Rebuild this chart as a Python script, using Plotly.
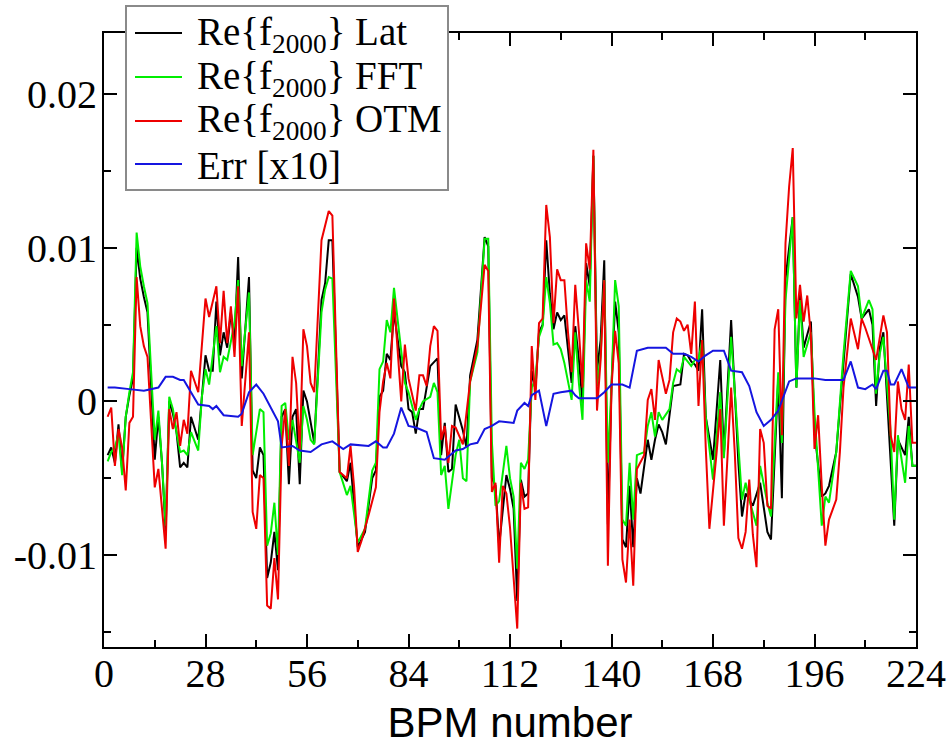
import plotly.graph_objects as go

# Re{f2000} OTM (red) : (BPM, value)
otm_points = [
    (1, -0.0010), (2, -0.0004), (3, -0.0042), (4, -0.0018), (5, -0.0030), (6, -0.0058), (7, -0.0014), (8, -0.0010),
    (9, 0.0081), (10, 0.0049), (11, 0.0036), (12, 0.0029), (14, -0.0056), (15, -0.0044), (17, -0.0096), (18, -0.0005),
    (19, -0.0018), (20, -0.0007), (21, -0.0029), (22, -0.0012), (23, -0.0021), (24, 0.0020), (25, 0.0013), (26, 0.0006),
    (28, 0.0067), (29, 0.0055), (31, 0.0075), (32, 0.0038), (33, 0.0072), (34, 0.0038), (35, 0.0062), (36, 0.0029),
    (37, 0.0075), (38, -0.0016), (40, 0.0045), (41, -0.0072), (42, -0.0083), (43, -0.0048), (44, -0.0050), (45, -0.0133),
    (46, -0.0135), (47, -0.0102), (48, -0.0129), (49, -0.0029), (50, -0.0005), (51, -0.0042), (52, 0.0029), (53, 0.0012),
    (54, -0.0032), (55, 0.0047), (56, 0.0036), (57, 0.0012), (58, 0.0006), (60, 0.0105), (62, 0.0124), (63, 0.0121),
    (65, -0.0046), (67, -0.0050), (68, -0.0029), (69, -0.0056), (70, -0.0098), (71, -0.0091), (73, -0.0074), (75, -0.0056),
    (76, -0.0007), (77, 0.0013), (78, 0.0025), (79, 0.0015), (80, 0.0067), (82, 0.0000), (83, 0.0037), (84, 0.0015),
    (86, -0.0006), (87, 0.0017), (88, 0.0017), (89, 0.0010), (90, 0.0036), (91, 0.0049), (92, 0.0046), (93, -0.0025),
    (94, -0.0016), (95, -0.0040), (96, -0.0016), (97, -0.0017), (99, -0.0028), (101, 0.0013), (103, 0.0036), (105, 0.0089),
    (106, 0.0085), (107, -0.0059), (108, -0.0053), (109, -0.0105), (110, -0.0055), (111, -0.0060), (112, -0.0082), (114, -0.0148),
    (115, -0.0053), (116, -0.0070), (117, -0.0069), (118, 0.0036), (119, 0.0001), (120, 0.0051), (121, 0.0054), (122, 0.0128),
    (123, 0.0107), (124, 0.0051), (125, 0.0086), (126, 0.0079), (127, 0.0079), (128, 0.0045), (129, 0.0019), (130, 0.0076),
    (131, 0.0046), (132, 0.0009), (133, 0.0103), (134, 0.0086), (135, 0.0164), (136, -0.0006), (137, 0.0027), (138, 0.0079),
    (139, -0.0107), (140, 0.0009), (141, 0.0046), (142, 0.0025), (143, -0.0103), (144, -0.0118), (145, -0.0077), (146, -0.0120),
    (147, -0.0044), (149, -0.0035), (150, 0.0001), (151, 0.0008), (152, -0.0012), (153, 0.0027), (154, 0.0016), (155, 0.0005),
    (156, 0.0014), (157, 0.0045), (158, 0.0054), (159, 0.0052), (160, 0.0046), (161, 0.0050), (162, 0.0031), (163, 0.0065),
    (164, -0.0003), (165, 0.0040), (166, -0.0030), (167, -0.0083), (169, -0.0033), (170, -0.0005), (171, -0.0081), (173, 0.0009),
    (174, -0.0033), (175, -0.0089), (176, -0.0096), (177, -0.0085), (178, -0.0051), (179, -0.0087), (180, -0.0108), (181, -0.0018),
    (182, -0.0027), (183, -0.0068), (184, -0.0070), (185, 0.0047), (186, 0.0060), (187, -0.0022), (188, 0.0103), (189, 0.0140),
    (190, 0.0165), (191, 0.0054), (192, 0.0076), (193, 0.0052), (194, 0.0069), (195, 0.0043), (196, -0.0031), (197, -0.0009),
    (198, -0.0055), (199, -0.0094), (200, -0.0077), (202, -0.0064), (203, -0.0033), (204, 0.0009), (206, 0.0054), (208, 0.0034),
    (209, 0.0054), (210, 0.0048), (213, 0.0027), (214, 0.0042), (215, 0.0056), (216, 0.0045), (217, -0.0022), (218, -0.0033),
    (219, 0.0013), (220, -0.0005), (221, -0.0012), (222, 0.0024), (223, -0.0027), (224, -0.0027),
]

# Re{f2000} FFT (green)
fft_points = [
    (1, -0.0039), (2, -0.0033), (3, -0.0030), (4, -0.0021), (5, -0.0048), (6, -0.0010), (7, 0.0006), (8, 0.0019),
    (9, 0.0110), (10, 0.0088), (11, 0.0075), (12, 0.0064), (14, -0.0025), (15, -0.0006), (16, -0.0040), (17, -0.0081),
    (18, 0.0003), (19, -0.0005), (20, -0.0020), (21, -0.0033), (22, -0.0032), (23, -0.0035), (24, -0.0020), (26, -0.0032),
    (27, 0.0003), (28, 0.0021), (29, 0.0011), (31, 0.0049), (32, 0.0019), (33, 0.0029), (34, 0.0027), (36, 0.0051),
    (37, 0.0079), (38, 0.0023), (40, 0.0071), (41, -0.0035), (43, -0.0005), (44, -0.0007), (45, -0.0094), (46, -0.0086),
    (47, -0.0066), (48, -0.0100), (49, -0.0003), (50, -0.0001), (51, -0.0025), (52, -0.0012), (54, -0.0040), (55, -0.0003),
    (56, -0.0012), (57, -0.0025), (58, -0.0028), (60, 0.0058), (61, 0.0073), (62, 0.0081), (63, 0.0080), (65, -0.0046),
    (67, -0.0061), (68, -0.0055), (70, -0.0092), (72, -0.0083), (74, -0.0045), (75, -0.0040), (76, 0.0021), (77, 0.0026),
    (78, 0.0053), (79, 0.0045), (80, 0.0074), (82, 0.0033), (83, 0.0012), (84, 0.0006), (86, -0.0012), (87, -0.0005),
    (88, 0.0000), (90, 0.0003), (91, 0.0012), (92, 0.0006), (93, -0.0048), (94, -0.0042), (95, -0.0070), (97, -0.0035),
    (98, -0.0025), (99, -0.0050), (100, -0.0052), (101, 0.0013), (103, 0.0032), (105, 0.0106), (106, 0.0106), (107, -0.0026),
    (108, -0.0068), (109, -0.0065), (111, -0.0029), (112, -0.0050), (113, -0.0062), (114, -0.0109), (115, -0.0040), (116, -0.0044),
    (117, -0.0038), (118, 0.0009), (119, 0.0014), (120, 0.0042), (121, 0.0049), (122, 0.0081), (123, 0.0064), (124, 0.0037),
    (125, 0.0038), (126, 0.0034), (127, 0.0025), (129, 0.0001), (130, 0.0045), (131, 0.0012), (132, -0.0012), (133, 0.0079),
    (134, 0.0065), (135, 0.0160), (136, 0.0010), (137, 0.0030), (138, 0.0079), (139, -0.0040), (140, 0.0010), (141, 0.0079),
    (142, 0.0062), (143, -0.0077), (144, -0.0081), (145, -0.0040), (146, -0.0077), (147, -0.0035), (149, -0.0033), (150, -0.0016),
    (151, -0.0007), (152, -0.0023), (153, -0.0007), (154, -0.0012), (156, -0.0005), (157, 0.0012), (158, 0.0021), (159, 0.0019),
    (160, 0.0029), (162, 0.0023), (163, 0.0027), (164, 0.0027), (165, 0.0040), (166, -0.0010), (168, -0.0051), (170, 0.0006),
    (171, -0.0037), (173, 0.0042), (175, -0.0029), (176, -0.0064), (177, -0.0053), (178, -0.0064), (180, -0.0081), (181, -0.0042),
    (183, -0.0066), (184, -0.0075), (186, 0.0019), (187, -0.0027), (188, 0.0066), (190, 0.0120), (191, 0.0009), (192, 0.0066),
    (193, 0.0029), (195, 0.0045), (196, -0.0007), (198, -0.0081), (199, -0.0062), (200, -0.0066), (202, -0.0033), (204, 0.0031),
    (206, 0.0085), (208, 0.0075), (209, 0.0054), (211, 0.0066), (212, 0.0060), (213, 0.0005), (214, 0.0031), (215, 0.0042),
    (217, -0.0020), (218, -0.0077), (219, -0.0022), (221, -0.0053), (222, -0.0016), (223, -0.0042), (224, -0.0042),
]

# Re{f2000} Lat (black)
lat_points = [
    (1, -0.0035), (2, -0.0030), (3, -0.0040), (4, -0.0015), (5, -0.0045), (6, -0.0010), (7, 0.0004), (8, 0.0015),
    (9, 0.0100), (10, 0.0080), (11, 0.0068), (12, 0.0058), (14, -0.0038), (15, -0.0010), (16, -0.0040), (17, -0.0085),
    (18, 0.0000), (19, -0.0008), (20, -0.0020), (21, -0.0043), (22, -0.0040), (23, -0.0043), (24, -0.0010), (26, -0.0025),
    (27, 0.0003), (28, 0.0030), (29, 0.0020), (30, 0.0020), (31, 0.0065), (32, 0.0030), (33, 0.0045), (34, 0.0035),
    (35, 0.0058), (36, 0.0040), (37, 0.0094), (38, 0.0015), (40, 0.0081), (41, -0.0045), (42, -0.0050), (43, -0.0030),
    (44, -0.0035), (45, -0.0115), (46, -0.0105), (47, -0.0085), (48, -0.0110), (49, -0.0010), (50, -0.0005), (51, -0.0054),
    (52, -0.0010), (53, -0.0005), (54, -0.0054), (55, 0.0007), (56, 0.0000), (57, -0.0015), (58, -0.0027), (60, 0.0066),
    (61, 0.0077), (62, 0.0105), (63, 0.0105), (65, -0.0046), (67, -0.0052), (68, -0.0040), (70, -0.0095), (72, -0.0085),
    (74, -0.0050), (75, -0.0045), (76, 0.0003), (77, 0.0007), (78, 0.0031), (79, 0.0027), (80, 0.0058), (82, 0.0023),
    (83, 0.0019), (84, -0.0005), (85, -0.0007), (86, -0.0021), (87, -0.0005), (88, -0.0005), (90, 0.0023), (92, 0.0028),
    (93, -0.0035), (94, -0.0014), (95, -0.0046), (96, -0.0044), (97, -0.0002), (99, -0.0019), (100, -0.0030), (101, 0.0017),
    (103, 0.0040), (105, 0.0107), (106, 0.0101), (107, -0.0050), (108, -0.0055), (109, -0.0094), (111, -0.0048), (112, -0.0057),
    (113, -0.0070), (114, -0.0130), (115, -0.0051), (116, -0.0062), (117, -0.0060), (118, 0.0020), (119, 0.0008), (120, 0.0045),
    (121, 0.0050), (122, 0.0105), (123, 0.0070), (124, 0.0047), (125, 0.0058), (126, 0.0053), (127, 0.0056), (128, 0.0034),
    (129, 0.0012), (130, 0.0049), (131, 0.0027), (132, -0.0001), (133, 0.0090), (134, 0.0075), (135, 0.0160), (136, 0.0020),
    (137, 0.0040), (138, 0.0092), (139, -0.0080), (140, 0.0010), (141, 0.0065), (142, 0.0045), (143, -0.0090), (144, -0.0095),
    (145, -0.0055), (146, -0.0095), (147, -0.0050), (148, -0.0060), (150, -0.0025), (151, -0.0038), (152, -0.0025), (153, -0.0015),
    (154, -0.0020), (155, -0.0028), (156, -0.0007), (157, 0.0010), (159, 0.0011), (160, 0.0031), (161, 0.0030), (162, 0.0026),
    (163, 0.0024), (164, 0.0020), (165, 0.0060), (166, -0.0010), (168, -0.0038), (170, 0.0027), (171, -0.0035), (173, 0.0053),
    (175, -0.0040), (176, -0.0075), (177, -0.0060), (179, -0.0068), (181, -0.0053), (183, -0.0085), (184, -0.0090), (186, 0.0015),
    (187, -0.0063), (188, 0.0080), (190, 0.0120), (191, 0.0009), (192, 0.0070), (193, 0.0035), (195, 0.0052), (196, -0.0020),
    (198, -0.0062), (199, -0.0060), (200, -0.0055), (202, -0.0033), (204, 0.0025), (206, 0.0083), (208, 0.0068), (209, 0.0054),
    (211, 0.0060), (212, 0.0050), (213, -0.0003), (214, 0.0035), (215, 0.0045), (217, -0.0045), (218, -0.0081), (219, -0.0025),
    (221, -0.0035), (222, -0.0010), (223, -0.0042), (224, -0.0042),
]

# Err [x10] (blue)
err_points = [
    (1, 0.0009), (3, 0.0009), (7, 0.0008), (11, 0.0007), (15, 0.0009), (17, 0.0016), (19, 0.0016), (21, 0.0014),
    (22, 0.0014), (24, 0.0006), (26, -0.0002), (29, -0.0003), (30, -0.0005), (31, -0.0003), (33, -0.0009), (37, -0.0010),
    (38, -0.0008), (40, 0.0006), (42, 0.0011), (44, 0.0005), (46, -0.0004), (48, -0.0013), (49, -0.0030), (52, -0.0029),
    (54, -0.0032), (57, -0.0033), (60, -0.0028), (63, -0.0026), (66, -0.0031), (68, -0.0028), (73, -0.0029), (75, -0.0026),
    (77, -0.0030), (78, -0.0030), (80, -0.0021), (82, -0.0004), (84, -0.0016), (86, -0.0017), (89, -0.0020), (91, -0.0037),
    (94, -0.0038), (97, -0.0032), (99, -0.0031), (101, -0.0028), (103, -0.0027), (105, -0.0018), (107, -0.0016), (109, -0.0013),
    (113, -0.0014), (114, -0.0006), (116, -0.0001), (117, -0.0003), (118, 0.0004), (120, 0.0007), (122, -0.0016), (124, 0.0005),
    (126, 0.0006), (129, 0.0007), (130, 0.0004), (131, 0.0002), (136, 0.0002), (138, 0.0006), (140, 0.0011), (143, 0.0011),
    (145, 0.0009), (147, 0.0033), (150, 0.0035), (152, 0.0035), (155, 0.0035), (157, 0.0031), (160, 0.0031), (162, 0.0029),
    (164, 0.0026), (166, 0.0030), (168, 0.0033), (171, 0.0033), (173, 0.0020), (176, 0.0019), (178, 0.0010), (180, -0.0007),
    (182, -0.0016), (184, -0.0012), (186, -0.0006), (189, 0.0013), (191, 0.0015), (196, 0.0015), (199, 0.0014), (204, 0.0014),
    (206, 0.0026), (208, 0.0009), (210, 0.0008), (212, 0.0011), (213, 0.0008), (215, 0.0020), (216, 0.0020), (217, 0.0011),
    (218, 0.0011), (220, 0.0021), (222, 0.0009), (224, 0.0009),
]

series_names = ["Re{f<sub>2000</sub>} Lat", "Re{f<sub>2000</sub>} FFT",
                "Re{f<sub>2000</sub>} OTM", "Err [x10]"]
series_colors = ["#000000", "#00ee00", "#ee0000", "#1515e0"]

x_tickvals = [0, 28, 56, 84, 112, 140, 168, 196, 224]
y_tickvals = [-0.01, 0, 0.01, 0.02]
y_ticktext = ["-0.01", "0", "0.01", "0.02"]

# plot-area geometry in pixels (used only to place the hand-drawn legend box)
W, H = 951, 746
ML, MR, MT, MB = 104, 35, 33, 99
PW, PH = W - ML - MR, H - MT - MB


def px(xp):
    return (xp - ML) / PW


def py(yp):
    return (H - MB - yp) / PH


fig = go.Figure()
for pts, name, color in zip([lat_points, fft_points, otm_points, err_points], series_names, series_colors):
    xs = [p[0] for p in pts]
    ys = [p[1] for p in pts]
    fig.add_trace(go.Scatter(x=xs, y=ys, mode="lines", name=name,
                             line=dict(color=color, width=2), showlegend=False))

serif = "Liberation Serif, Times New Roman, serif"

# legend box (white, grey border) drawn over the frame like the original
shapes = [dict(type="rect", xref="paper", yref="paper", layer="above",
               x0=px(126), x1=px(448), y0=py(190), y1=py(6),
               fillcolor="white", line=dict(color="#8a8a8a", width=2))]
annotations = []
row_y = [33, 77, 121, 164]
for name, color, yy in zip(series_names, series_colors, row_y):
    shapes.append(dict(type="line", xref="paper", yref="paper", layer="above",
                       x0=px(135), x1=px(182), y0=py(yy), y1=py(yy),
                       line=dict(color=color, width=2)))
    annotations.append(dict(xref="paper", yref="paper", x=px(195), y=py(yy + 1),
                            xanchor="left", yanchor="middle", showarrow=False, text=name,
                            font=dict(family=serif, size=39, color="black")))

fig.update_layout(
    width=W, height=H,
    margin=dict(l=ML, r=MR, t=MT, b=MB, autoexpand=False),
    paper_bgcolor="white", plot_bgcolor="white",
    showlegend=False,
    shapes=shapes,
    annotations=annotations,
    xaxis=dict(
        range=[0, 224], tickvals=x_tickvals, ticks="inside", ticklen=13, tickwidth=1.5,
        tickcolor="black", showline=True, linecolor="black", linewidth=2, mirror="allticks",
        showgrid=False, zeroline=False, automargin=True, ticklabelstandoff=-10,
        tickfont=dict(family=serif, size=40, color="black"),
        minor=dict(dtick=14, tick0=0, ticks="inside", ticklen=7, tickcolor="black", showgrid=False),
        title=dict(text="BPM number", font=dict(family="Liberation Sans, Arial, sans-serif", size=42, color="black"),
                   standoff=30),
    ),
    yaxis=dict(
        range=[-0.016, 0.024], tickvals=y_tickvals, ticktext=y_ticktext, ticks="inside", ticklen=13,
        tickwidth=1.5, tickcolor="black", showline=True, linecolor="black", linewidth=2, mirror="allticks",
        showgrid=False, zeroline=False, automargin=False, ticklabelstandoff=-3,
        tickfont=dict(family=serif, size=40, color="black"),
        minor=dict(dtick=0.005, tick0=0, ticks="inside", ticklen=7, tickcolor="black", showgrid=False),
    ),
)

fig.write_html("out.html")
